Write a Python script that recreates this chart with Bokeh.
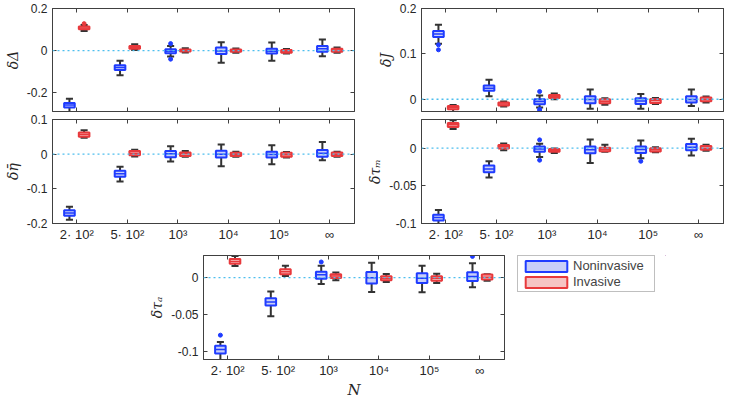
from bokeh.plotting import figure
from bokeh.models import (ColumnDataSource, FixedTicker, Span, LinearAxis, Range1d,
                          Legend, LegendItem)
from bokeh.layouts import row, column
from bokeh.embed import file_html
from bokeh.resources import INLINE

# ---------------- data ----------------
categories = [1, 2, 3, 4, 5, 6]
category_labels = ["2· 10²", "5· 10²", "10³", "10⁴", "10⁵", "∞"]
series_names = ["Noninvasive", "Invasive"]

# each entry: (lower whisker, q1, median, q3, upper whisker)
dDelta_non = [(-0.300, -0.271, -0.259, -0.250, -0.229), (-0.117, -0.092, -0.081, -0.070, -0.049),
              (-0.028, -0.013, -0.003, 0.006, 0.022), (-0.058, -0.017, -0.002, 0.014, 0.040),
              (-0.049, -0.014, -0.003, 0.009, 0.038), (-0.027, -0.006, 0.009, 0.022, 0.052)]
dDelta_inv = [(0.093, 0.101, 0.107, 0.114, 0.122), (0.003, 0.008, 0.016, 0.022, 0.030),
              (-0.009, -0.005, 0.000, 0.005, 0.011), (-0.011, -0.006, 0.000, 0.005, 0.010),
              (-0.014, -0.010, -0.005, 0.002, 0.007), (-0.011, -0.006, 0.002, 0.008, 0.014)]
dDelta_non_out = [(3, 0.033), (3, -0.041)]
dDelta_inv_out = [(1, 0.128)]

dJ_non = [(0.1225, 0.1373, 0.1440, 0.1506, 0.1640), (0.0066, 0.0185, 0.0244, 0.0303, 0.0428),
          (-0.0180, -0.0110, -0.0050, 0.0000, 0.0080), (-0.0207, -0.0089, -0.0007, 0.0066, 0.0214),
          (-0.0207, -0.0103, -0.0037, 0.0020, 0.0118), (-0.0148, -0.0074, -0.0007, 0.0066, 0.0214)]
dJ_inv = [(-0.0310, -0.0221, -0.0180, -0.0148, -0.0125), (-0.0160, -0.0140, -0.0103, -0.0074, -0.0050),
          (0.0000, 0.0030, 0.0066, 0.0096, 0.0125), (-0.0120, -0.0090, -0.0044, 0.0000, 0.0020),
          (-0.0103, -0.0080, -0.0030, 0.0007, 0.0030), (-0.0074, -0.0044, 0.0000, 0.0037, 0.0060)]
dJ_non_out = [(1, 0.120), (1, 0.109), (3, 0.017), (3, -0.022), (3, -0.026)]
dJ_inv_out = []

deta_non = [(-0.189, -0.178, -0.170, -0.162, -0.152), (-0.079, -0.0655, -0.0567, -0.0479, -0.036),
            (-0.0215, -0.0088, 0.001, 0.0088, 0.0225), (-0.035, -0.0098, 0.000, 0.0098, 0.028),
            (-0.029, -0.0098, -0.001, 0.0068, 0.0254), (-0.0176, -0.0078, 0.003, 0.0117, 0.035)]
deta_inv = [(0.047, 0.0499, 0.0567, 0.0626, 0.069), (-0.0068, -0.0029, 0.0029, 0.0088, 0.0127),
            (-0.0078, -0.0050, 0.001, 0.0050, 0.0088), (-0.0078, -0.0050, 0.000, 0.0040, 0.0068),
            (-0.0098, -0.0078, -0.002, 0.0040, 0.0060), (-0.0078, -0.0050, 0.000, 0.0050, 0.0068)]
deta_non_out = []
deta_inv_out = []

dtaum_non = [(-0.1015, -0.0960, -0.0920, -0.0884, -0.0820), (-0.0388, -0.0320, -0.0277, -0.0232, -0.0174),
             (-0.0116, -0.0049, -0.0013, 0.0022, 0.0058), (-0.0196, -0.0067, -0.0022, 0.0022, 0.0116),
             (-0.0134, -0.0063, -0.0018, 0.0022, 0.0103), (-0.0098, -0.0027, 0.0013, 0.0054, 0.0125)]
dtaum_inv = [(0.0254, 0.0280, 0.0310, 0.0335, 0.0370), (-0.0027, -0.0004, 0.0018, 0.0040, 0.0063),
             (-0.0063, -0.0049, -0.0030, -0.0013, -0.0004), (-0.0049, -0.0040, -0.0018, 0.0004, 0.0045),
             (-0.0054, -0.0045, -0.0022, 0.0000, 0.0013), (-0.0036, -0.0022, 0.0000, 0.0027, 0.0045)]
dtaum_non_out = [(3, 0.011), (3, -0.016), (5, -0.0174)]
dtaum_inv_out = []

dtaua_non = [(-0.1130, -0.1030, -0.0973, -0.0923, -0.0874), (-0.0523, -0.0378, -0.0329, -0.0279, -0.0189),
             (-0.0086, -0.0014, 0.0040, 0.0081, 0.0162), (-0.0194, -0.0081, 0.0000, 0.0077, 0.0203),
             (-0.0198, -0.0072, -0.0009, 0.0059, 0.0162), (-0.0131, -0.0045, 0.0014, 0.0072, 0.0194)]
dtaua_inv = [(0.0158, 0.0189, 0.0220, 0.0252, 0.0293), (0.0023, 0.0045, 0.0081, 0.0113, 0.0162),
             (-0.0036, -0.0005, 0.0023, 0.0045, 0.0068), (-0.0059, -0.0036, -0.0009, 0.0018, 0.0050),
             (-0.0072, -0.0041, -0.0009, 0.0018, 0.0054), (-0.0041, -0.0027, 0.0005, 0.0041, 0.0045)]
dtaua_non_out = [(1, -0.078), (3, 0.0212), (6, 0.0288)]
dtaua_inv_out = []

# ---------------- style ----------------
BLUE_LINE, BLUE_FILL = "#1f3cff", "#c8cff8"
RED_LINE, RED_FILL = "#e8393c", "#f6c4c4"
WHISK = "#333333"
AX = "#404040"
OFFS = (-0.145, 0.145)
BOXW = 0.21
CAPW = 0.14


def style_axis(ax, labels=True):
    ax.axis_line_color = AX
    ax.major_tick_line_color = AX
    ax.major_tick_in = 4
    ax.major_tick_out = 0
    ax.minor_tick_line_color = None
    ax.major_label_text_font = "Liberation Sans"
    if labels:
        ax.major_label_text_color = "#262626"
        ax.major_label_text_font_size = "12px"
        ax.major_label_standoff = 5
    else:
        ax.major_label_text_color = None
        ax.major_label_text_font_size = "1px"
        ax.major_label_standoff = 0
    ax.axis_label_text_font = "DejaVu Serif"
    ax.axis_label_text_font_style = "italic"
    ax.axis_label_text_font_size = "14px"
    ax.axis_label_text_color = "#262626"
    ax.axis_label_standoff = 3


def draw_series(p, stats, outliers, off, line_c, fill_c):
    xs = [c + off for c in categories]
    lo = [s[0] for s in stats]
    q1 = [s[1] for s in stats]
    md = [s[2] for s in stats]
    q3 = [s[3] for s in stats]
    hi = [s[4] for s in stats]
    src = ColumnDataSource(dict(x=xs, lo=lo, q1=q1, md=md, q3=q3, hi=hi,
                                l0=[x - BOXW / 2 for x in xs], l1=[x + BOXW / 2 for x in xs],
                                c0=[x - CAPW / 2 for x in xs], c1=[x + CAPW / 2 for x in xs]))
    p.segment(x0="x", y0="q3", x1="x", y1="hi", source=src, line_color=WHISK, line_width=2)
    p.segment(x0="x", y0="q1", x1="x", y1="lo", source=src, line_color=WHISK, line_width=2)
    p.segment(x0="c0", y0="hi", x1="c1", y1="hi", source=src, line_color=WHISK, line_width=2)
    p.segment(x0="c0", y0="lo", x1="c1", y1="lo", source=src, line_color=WHISK, line_width=2)
    p.vbar(x="x", width=BOXW, top="q3", bottom="q1", source=src,
           fill_color=fill_c, line_color=line_c, line_width=2)
    p.segment(x0="l0", y0="md", x1="l1", y1="md", source=src, line_color=line_c, line_width=1.5)
    if outliers:
        p.scatter([o[0] + off for o in outliers], [o[1] for o in outliers], size=4,
                  fill_color=line_c, line_color=line_c)


def make_panel(ylabel, yrange, yticks, ytick_labels, non, inv, non_out, inv_out, xlabels,
               fw, fh, bl, br, bt, bb, xlabel=None):
    p = figure(frame_width=fw, frame_height=fh, x_range=Range1d(0.52, 6.49),
               y_range=Range1d(*yrange), output_backend="svg", toolbar_location=None,
               min_border_left=bl, min_border_right=br, min_border_top=bt, min_border_bottom=bb,
               background_fill_color="white", border_fill_color="white", align="start")
    p.xgrid.visible = False
    p.ygrid.visible = False
    p.outline_line_color = AX
    p.xaxis.ticker = FixedTicker(ticks=categories)
    p.xaxis.major_label_overrides = {c: l for c, l in zip(categories, category_labels)}
    p.yaxis.ticker = FixedTicker(ticks=yticks)
    p.yaxis.major_label_overrides = {t: l for t, l in zip(yticks, ytick_labels)}
    p.yaxis.axis_label = ylabel
    style_axis(p.xaxis[0], labels=xlabels)
    style_axis(p.yaxis[0], labels=True)
    if xlabels:
        p.xaxis.major_label_text_font_size = "13px"
        p.xaxis.major_label_standoff = 3
    if xlabel:
        p.xaxis.axis_label = xlabel
        p.xaxis.axis_label_text_font_size = "15px"
        p.xaxis.axis_label_standoff = 0
    top = LinearAxis(ticker=FixedTicker(ticks=categories))
    style_axis(top, labels=False)
    p.add_layout(top, "above")
    right = LinearAxis(ticker=FixedTicker(ticks=yticks))
    style_axis(right, labels=False)
    p.add_layout(right, "right")
    p.add_layout(Span(location=0, dimension="width", line_color="#4dbeee",
                      line_dash="2 3", line_width=1.3))
    draw_series(p, non, non_out, OFFS[0], BLUE_LINE, BLUE_FILL)
    draw_series(p, inv, inv_out, OFFS[1], RED_LINE, RED_FILL)
    return p


p1 = make_panel("δΔ", (-0.29, 0.2), [-0.2, 0, 0.2], ["-0.2", "0", "0.2"],
                dDelta_non, dDelta_inv, dDelta_non_out, dDelta_inv_out, False,
                302, 103, 52, 9, 8, 2)
p2 = make_panel("δJ", (-0.027, 0.2), [0, 0.1, 0.2], ["0", "0.1", "0.2"],
                dJ_non, dJ_inv, dJ_non_out, dJ_inv_out, False,
                302, 103, 58, 10, 8, 2)
p3 = make_panel("δη̄", (-0.2, 0.1), [-0.2, -0.1, 0, 0.1], ["-0.2", "-0.1", "0", "0.1"],
                deta_non, deta_inv, deta_non_out, deta_inv_out, True,
                302, 104, 52, 9, 6, 18)
p4 = make_panel("δτₘ", (-0.1, 0.038), [-0.1, -0.05, 0], ["-0.1", "-0.05", "0"],
                dtaum_non, dtaum_inv, dtaum_non_out, dtaum_inv_out, True,
                302, 104, 58, 10, 6, 18)
p5 = make_panel("δτₐ", (-0.111, 0.030), [-0.1, -0.05, 0], ["-0.1", "-0.05", "0"],
                dtaua_non, dtaua_inv, dtaua_non_out, dtaua_inv_out, True,
                301, 104, 203, 2, 11, 34, xlabel="N")

# legend in its own small figure next to the bottom panel
pl = figure(width=160, height=150, x_range=Range1d(0, 1), y_range=Range1d(0, 1),
            x_axis_type=None, y_axis_type=None, output_backend="svg", toolbar_location=None,
            min_border_left=11, min_border_top=9, min_border_right=0, min_border_bottom=0,
            outline_line_color=None, background_fill_color="white",
            border_fill_color="white", align="start")
pl.xgrid.visible = False
pl.ygrid.visible = False
# legend proxies (lie outside the visible range, only their styles are used)
proxy = ColumnDataSource(dict(x=[10], top=[11], bottom=[10]))
r_non = pl.vbar(x="x", top="top", bottom="bottom", width=0.1, source=proxy,
                fill_color=BLUE_FILL, line_color=BLUE_LINE, line_width=2)
r_inv = pl.vbar(x="x", top="top", bottom="bottom", width=0.1, source=proxy,
                fill_color=RED_FILL, line_color=RED_LINE, line_width=2)
legend = Legend(items=[LegendItem(label=series_names[0], renderers=[r_non]),
                       LegendItem(label=series_names[1], renderers=[r_inv])],
                location="top_left", margin=0, padding=2, spacing=1,
                glyph_width=52, glyph_height=14, label_height=14, label_width=79,
                label_standoff=1,
                label_text_font="Liberation Sans", label_text_font_size="13px",
                border_line_color="#808080", border_line_width=1, background_fill_color="white")
pl.add_layout(legend)

layout = column(row(p1, p2), row(p3, p4), row(p5, pl))

open("out.html", "w").write(file_html(layout, INLINE))
